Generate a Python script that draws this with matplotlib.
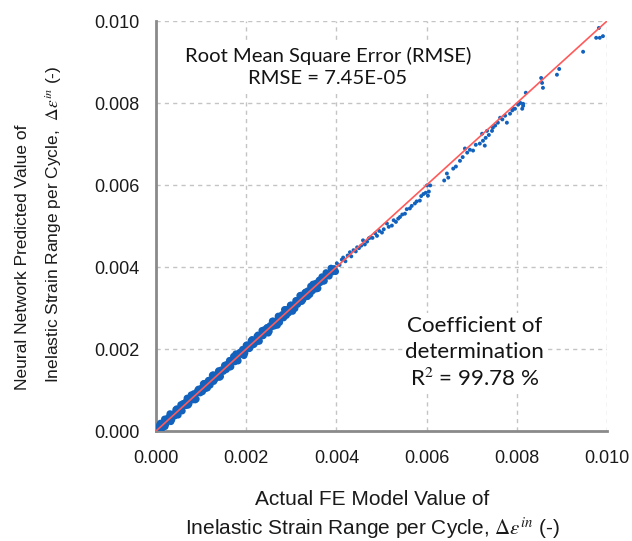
import matplotlib
matplotlib.use("Agg")
import matplotlib.pyplot as plt
import numpy as np

plt.rcParams['mathtext.fontset'] = 'stix'

# ---- data, units of 1e-5 ----
actual_dense = [3, 6, 10, 13, 17, 20, 24, 28, 31, 35, 38, 42, 46, 49, 53, 56, 60, 64, 67, 71,
                74, 78, 82, 85, 89, 92, 96, 100, 103, 107, 110, 114, 118, 121, 125, 128, 132, 136, 139, 143,
                146, 150, 154, 157, 161, 164, 168, 172, 175, 179, 182, 186, 190, 193, 197, 200, 204, 208, 211, 215,
                218, 222, 226, 229, 233, 236, 240, 244, 247, 251, 254, 258, 262, 265, 269, 272, 276, 280, 283, 287,
                290, 294, 298, 301, 305, 308, 312, 316, 319, 323, 326, 330, 334, 337, 341, 344, 348, 352, 355, 359,
                362, 366, 370, 373, 377, 380, 384, 388, 391, 395, 398]
predicted_dense = [7, 1, 19, 10, 18, 11, 30, 26, 42, 28, 41, 37, 54, 39, 55, 52, 67, 63, 72, 63,
                   74, 88, 76, 88, 78, 98, 94, 104, 96, 116, 111, 105, 124, 119, 136, 121, 135, 131, 147, 133,
                   148, 146, 161, 156, 166, 156, 168, 182, 169, 182, 171, 192, 188, 197, 190, 209, 208, 202, 220, 212,
                   221, 217, 234, 219, 235, 232, 247, 243, 252, 243, 254, 268, 256, 268, 258, 278, 274, 284, 276, 296,
                   294, 288, 307, 298, 306, 299, 318, 314, 330, 316, 322, 337, 333, 342, 333, 344, 358, 346, 358, 348,
                   368, 364, 374, 366, 386, 384, 378, 397, 388, 396, 389]

actual_dense_b = [5, 8, 12, 15, 19, 22, 26, 30, 33, 37, 40, 44, 48, 51, 55, 58, 62, 66, 69, 73,
                  76, 80, 84, 87, 91, 94, 98, 102, 105, 109, 112, 116, 120, 123, 127, 130, 134, 138, 141, 145,
                  148, 152, 156, 159, 163, 166, 170, 174, 177, 181, 184, 188, 192, 195, 199, 202, 206, 210, 213, 217,
                  220, 224, 228, 231, 235, 238, 242, 246, 249, 253, 256, 260, 264, 267, 271, 274, 278, 282, 285, 289,
                  292, 296, 300, 303, 307, 310, 314, 318, 321, 325, 328, 332, 336, 339, 343, 346, 350, 354, 357, 361,
                  364, 368, 372, 375]
predicted_dense_b = [2, 15, 4, 17, 29, 17, 26, 36, 23, 41, 38, 52, 42, 52, 64, 49, 65, 62, 80, 66,
                     81, 79, 91, 76, 93, 102, 93, 99, 115, 103, 109, 123, 112, 125, 137, 125, 134, 144, 131, 149,
                     146, 160, 150, 160, 172, 157, 173, 170, 188, 174, 189, 187, 199, 184, 201, 210, 201, 207, 223, 211,
                     217, 231, 220, 233, 245, 233, 242, 252, 239, 257, 254, 268, 258, 268, 280, 265, 281, 278, 296, 282,
                     297, 295, 307, 292, 309, 318, 309, 315, 331, 319, 325, 339, 328, 341, 353, 341, 350, 360, 347, 365,
                     362, 376, 366, 376]

actual_sparse = [401, 407, 412, 415, 420, 425, 430, 433, 438, 443, 446, 450, 455, 459, 463, 468, 472, 475, 480, 486,
                 490, 495, 501, 505, 512, 516, 523, 527, 532, 537, 541, 546, 552, 556, 563, 567, 574, 578, 585, 588,
                 593, 598, 601, 603, 605,
                 608, 639, 645, 648, 659, 665, 674, 680, 685, 690, 696, 703, 709, 718, 723, 725, 729, 731, 734, 738,
                 745, 747, 752, 758, 763, 768, 774, 778, 785, 790, 796, 803, 808, 812, 814,
                 792, 814, 820, 854, 856, 858, 889, 894, 947, 976, 984, 982, 991]
predicted_sparse = [409, 405, 418, 423, 414, 428, 436, 426, 441, 438, 448, 446, 452, 465, 455, 462, 470, 472, 471, 482,
                    476, 488, 484, 492, 506, 498, 501, 514, 510, 518, 522, 528, 530, 541, 543, 549, 555, 560, 562, 573,
                    578, 581, 599, 574, 584,
                    599, 611, 628, 618, 640, 645, 659, 668, 689, 679, 686, 684, 698, 701, 725, 708, 696, 715, 732, 722,
                    732, 740, 745, 752, 764, 760, 769, 752, 774, 782, 786, 796, 800, 786, 798,
                    786, 793, 825, 861, 849, 837, 869, 883, 925, 959, 959, 983, 963]

ticks = [0.000, 0.002, 0.004, 0.006, 0.008, 0.010]
tick_labels = ["0.000", "0.002", "0.004", "0.006", "0.008", "0.010"]
rmse_text = "Root Mean Square Error (RMSE)\nRMSE = 7.45E-05"
r2_text = "Coefficient of\ndetermination\nR$^2$ = 99.78 %"

scale = 1e-5
xd = np.array(actual_dense + actual_dense_b) * scale
yd = np.array(predicted_dense + predicted_dense_b) * scale
xs = np.array(actual_sparse) * scale
ys = np.array(predicted_sparse) * scale

W, H = 632, 541
fig = plt.figure(figsize=(W / 100, H / 100), dpi=100)
ax = fig.add_axes([156 / W, 1 - 431 / H, (607 - 156) / W, (431 - 21) / H])

blue = '#1262bd'
ax.scatter(xd, yd, s=26, color=blue, edgecolors='none', zorder=3)
ax.scatter(xs, ys, s=8, color=blue, edgecolors='none', zorder=3)
ax.plot([0, 0.01], [0, 0.01], color='#ff5a5a', lw=1.2, zorder=4)

ax.set_xlim(0, 0.010)
ax.set_ylim(0, 0.010)
ax.set_xticks(ticks)
ax.set_yticks(ticks)
ax.set_xticklabels(tick_labels, fontfamily='Liberation Sans', fontsize=13, color='#1a1a1a')
ax.set_yticklabels(tick_labels, fontfamily='Liberation Sans', fontsize=13, color='#1a1a1a')
ax.tick_params(axis='both', length=0)
ax.tick_params(axis='x', pad=14)
ax.tick_params(axis='y', pad=12)
ax.grid(True, color='#c4c4c4', linestyle=(0, (3, 3)), lw=1.0, zorder=0)
for s in ['top', 'right']:
    ax.spines[s].set_visible(False)
for s in ['left', 'bottom']:
    ax.spines[s].set_color('#8a8a8a')
    ax.spines[s].set_linewidth(2)
ax.set_axisbelow(True)

ax.text(0.381, 0.888, rmse_text, transform=ax.transAxes, ha='center', va='center',
        fontfamily='Lato', fontsize=14.6, color='#141414',
        linespacing=1.4, bbox=dict(facecolor='white', edgecolor='none', pad=2), zorder=5)
ax.text(0.707, 0.19, r2_text, transform=ax.transAxes, ha='center', va='center',
        fontfamily='Lato', fontsize=16.1, color='#141414',
        linespacing=1.35, bbox=dict(facecolor='white', edgecolor='none', pad=2), zorder=5)

lab = dict(fontfamily='Liberation Sans', color='#1a1a1a')
fig.text(27 / W, 1 - 257 / H, "Neural Network Predicted Value of", rotation=90, rotation_mode='anchor',
         ha='center', va='baseline', fontsize=12.5, **lab)
fig.text(59 / W, 1 - 224 / H, r"Inelastic Strain Range per Cycle,  $\Delta\varepsilon^{in}$ (-)", rotation=90,
         rotation_mode='anchor', ha='center', va='baseline', fontsize=12.5, **lab)
fig.text(372 / W, 1 - 505 / H, "Actual FE Model Value of", ha='center', va='baseline', fontsize=15, **lab)
fig.text(372 / W, 1 - 535 / H, r"Inelastic Strain Range per Cycle, $\Delta\varepsilon^{in}$ (-)",
         ha='center', va='baseline', fontsize=15, **lab)

fig.savefig("out.png", dpi=100)
